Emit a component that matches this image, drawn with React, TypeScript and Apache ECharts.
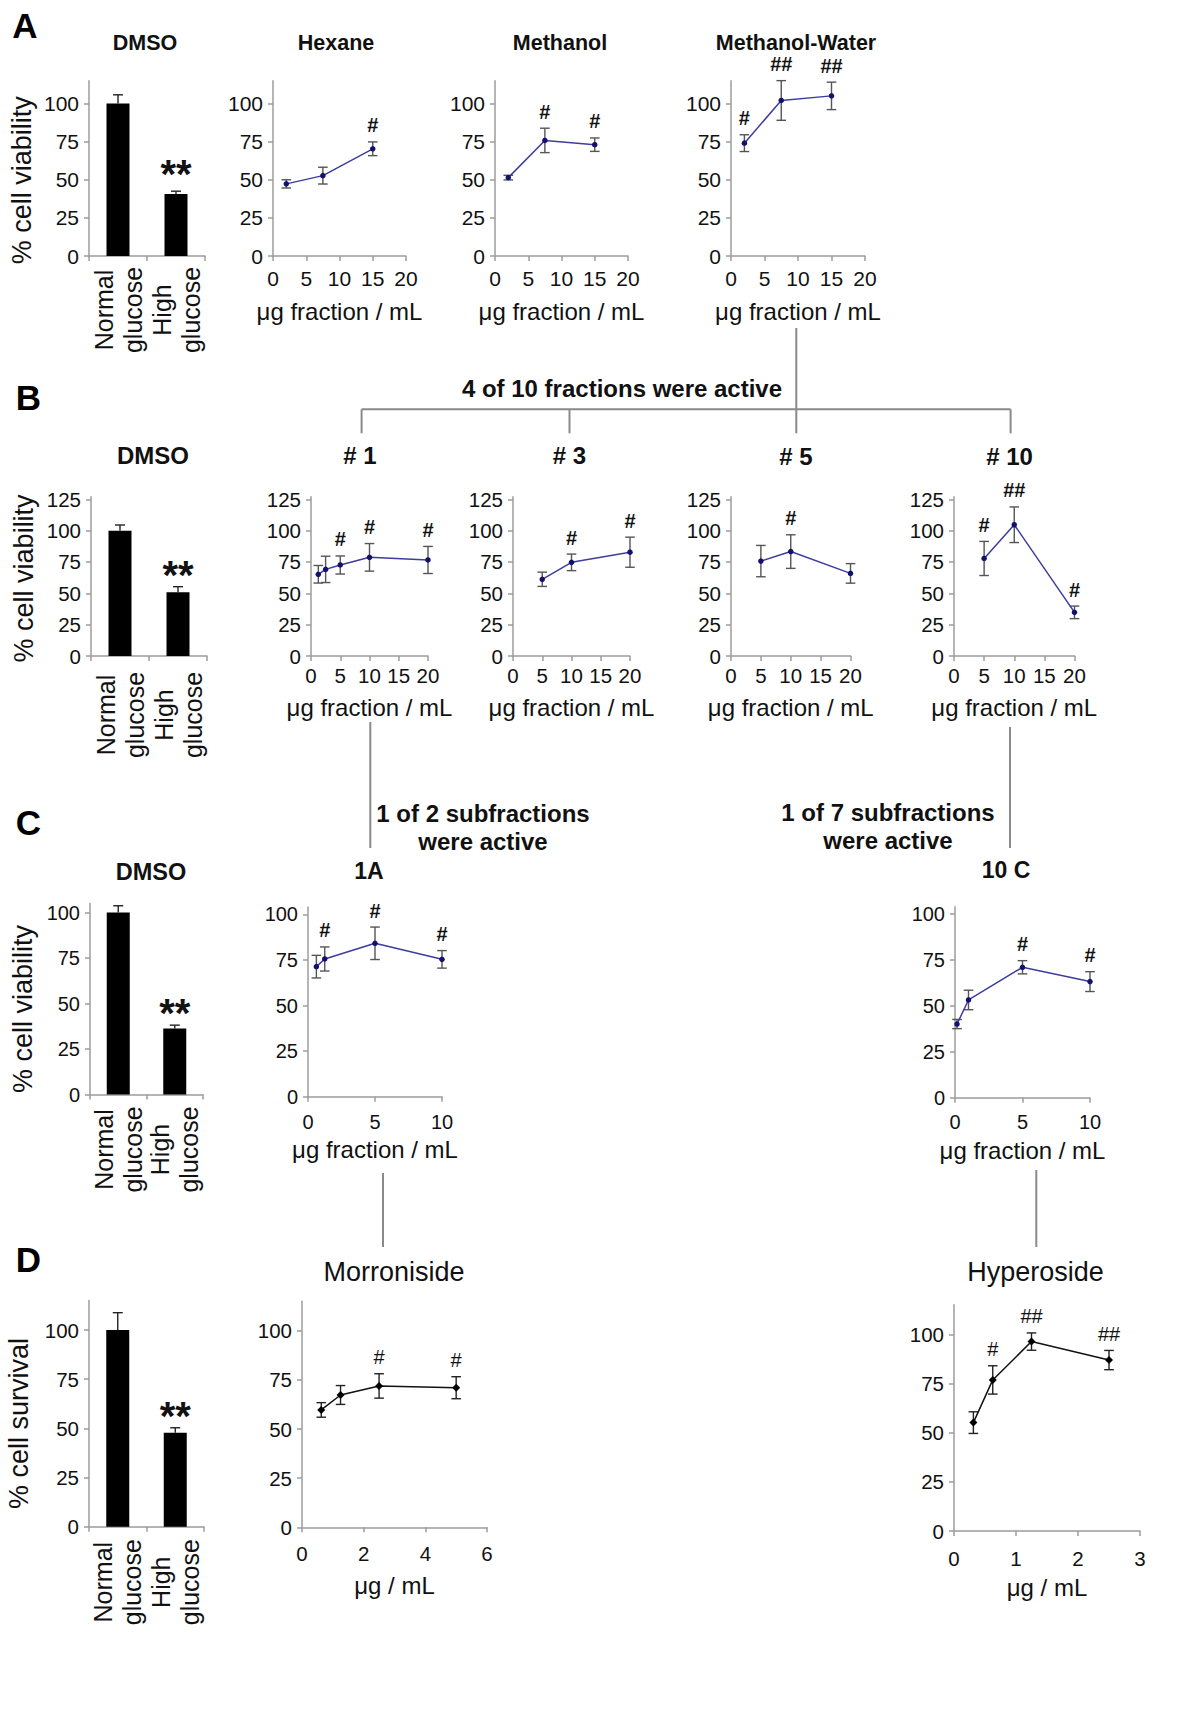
import React, { useEffect, useRef } from 'react';
import * as echarts from 'echarts';

const FONT = '"Liberation Sans", Arial, Helvetica, sans-serif';

// ---------- data ----------
const barCategories = ['Normal\nglucose', 'High\nglucose'];
const barMarks = ['', '**'];
const ticks100 = [0, 25, 50, 75, 100];
const ticks125 = [0, 25, 50, 75, 100, 125];
const yNameViability = '% cell viability';
const yNameSurvival = '% cell survival';
const xNameFraction = 'μg fraction / mL';
const xNameConc = 'μg / mL';

// Row A
const dmsoA = [100, 40.7];
const dmsoAErr = [5.7, 1.8];
const hexaneX = [2, 7.5, 15];
const hexaneY = [47.3, 52.7, 70.3];
const hexaneErr = [2.7, 5.5, 4.5];
const hexaneMarks = ['', '', '#'];
const methanolX = [2, 7.5, 15];
const methanolY = [51.4, 75.8, 73];
const methanolErr = [1.5, 8, 4.4];
const methanolMarks = ['', '#', '#'];
const mwX = [2, 7.5, 15];
const mwY = [74, 102, 105];
const mwErr = [5.5, 13, 9];
const mwMarks = ['#', '##', '##'];

// Row B
const dmsoB = [100, 50.8];
const dmsoBErr = [4.5, 4.5];
const f1X = [1.25, 2.5, 5, 10, 20];
const f1Y = [65.2, 69.1, 72.6, 78.7, 76.6];
const f1Err = [7, 10.5, 7.2, 11, 10.8];
const f1Marks = ['', '', '#', '#', '#'];
const f3X = [5, 10, 20];
const f3Y = [61.2, 74.7, 82.8];
const f3Err = [5.7, 6.6, 12];
const f3Marks = ['', '#', '#'];
const f5X = [5, 10, 20];
const f5Y = [75.7, 83.3, 65.9];
const f5Err = [12.5, 13.4, 7.8];
const f5Marks = ['', '#', ''];
const f10X = [5, 10, 20];
const f10Y = [77.8, 104.7, 34.8];
const f10Err = [13.6, 14.2, 5];
const f10Marks = ['#', '##', '#'];

// Row C
const dmsoC = [100, 36.3];
const dmsoCErr = [3.7, 1.8];
const s1aX = [0.625, 1.25, 5, 10];
const s1aY = [71.3, 75.5, 84.1, 75.3];
const s1aErr = [6.2, 6.6, 8.9, 4.8];
const s1aMarks = ['', '#', '#', '#'];
const s10cX = [0.15, 1, 5, 10];
const s10cY = [40.1, 53.2, 71, 63.2];
const s10cErr = [2.5, 5.3, 3.6, 5.4];
const s10cMarks = ['', '', '#', '#'];

// Row D
const dmsoD = [100, 47.8];
const dmsoDErr = [8.8, 2.5];
const morX = [0.625, 1.25, 2.5, 5];
const morY = [59.7, 67.3, 71.9, 71];
const morErr = [3.7, 4.8, 6.2, 5.6];
const morMarks = ['', '', '#', '#'];
const hypX = [0.3125, 0.625, 1.25, 2.5];
const hypY = [55.1, 76.8, 96.3, 86.9];
const hypErr = [5.5, 7.2, 4.4, 4.9];
const hypMarks = ['', '#', '##', '##'];

// titles / annotations
const panelLetters = ['A', 'B', 'C', 'D'];
const bracketText = '4 of 10 fractions were active';
const sub1Text = '1 of 2 subfractions\nwere active';
const sub10Text = '1 of 7 subfractions\nwere active';

// ---------- styling ----------
const NAVY_LINE = '#3d3d9e';
const NAVY_DOT = '#12126e';
const AXIS_COLOR = '#9c9c9c';
const CONNECT = '#8a8a8a';
const TEXT = '#111111';

type Panel = any;

const panels: Panel[] = [
  // Row A
  { kind: 'bar', left: 89, width: 116, y0: 256, ppu: 1.525, yMax: 115, yTicks: ticks100, vals: dmsoA, errs: dmsoAErr, marks: barMarks, starOffset: 17, yName: yNameViability, yShift: 12, catMargin: 54, tickFont: 21, title: 'DMSO', tx: 145, ty: 43, tSize: 21.5 },
  { kind: 'line', left: 273, width: 133, y0: 256, ppu: 1.525, yMax: 115, yTicks: ticks100, xMax: 20, xInt: 5, xs: hexaneX, ys: hexaneY, errs: hexaneErr, marks: hexaneMarks, xName: xNameFraction, xNameGap: 43, xMargin: 12, tickFont: 21, title: 'Hexane', tx: 336, ty: 43, tSize: 21.5 },
  { kind: 'line', left: 495, width: 133, y0: 256, ppu: 1.525, yMax: 115, yTicks: ticks100, xMax: 20, xInt: 5, xs: methanolX, ys: methanolY, errs: methanolErr, marks: methanolMarks, xName: xNameFraction, xNameGap: 43, xMargin: 12, tickFont: 21, title: 'Methanol', tx: 560, ty: 43, tSize: 21.5 },
  { kind: 'line', left: 731, width: 134, y0: 256, ppu: 1.525, yMax: 115, yTicks: ticks100, xMax: 20, xInt: 5, xs: mwX, ys: mwY, errs: mwErr, marks: mwMarks, xName: xNameFraction, xNameGap: 43, xMargin: 12, tickFont: 21, title: 'Methanol-Water', tx: 796, ty: 43, tSize: 21.5 },
  // Row B
  { kind: 'bar', left: 91, width: 116, y0: 656, ppu: 1.2536, yMax: 127, yTicks: ticks125, vals: dmsoB, errs: dmsoBErr, marks: barMarks, starOffset: 12, yName: yNameViability, yShift: 2, catMargin: 59, tickFont: 20.5, title: 'DMSO', tx: 153, ty: 455, tSize: 24 },
  { kind: 'line', left: 311, width: 117, y0: 656, ppu: 1.2536, yMax: 127, yTicks: ticks125, xMax: 20, xInt: 5, xs: f1X, ys: f1Y, errs: f1Err, marks: f1Marks, xName: xNameFraction, xNameGap: 39, xMargin: 9, tickFont: 20.5, title: '# 1', tx: 360, ty: 455, tSize: 24 },
  { kind: 'line', left: 513, width: 117, y0: 656, ppu: 1.2536, yMax: 127, yTicks: ticks125, xMax: 20, xInt: 5, xs: f3X, ys: f3Y, errs: f3Err, marks: f3Marks, xName: xNameFraction, xNameGap: 39, xMargin: 9, tickFont: 20.5, title: '# 3', tx: 569.5, ty: 455, tSize: 24 },
  { kind: 'line', left: 731, width: 119.5, y0: 656, ppu: 1.2536, yMax: 127, yTicks: ticks125, xMax: 20, xInt: 5, xs: f5X, ys: f5Y, errs: f5Err, marks: f5Marks, xName: xNameFraction, xNameGap: 39, xMargin: 9, tickFont: 20.5, title: '# 5', tx: 796, ty: 456, tSize: 24 },
  { kind: 'line', left: 954, width: 120.5, y0: 656, ppu: 1.2536, yMax: 127, yTicks: ticks125, xMax: 20, xInt: 5, xs: f10X, ys: f10Y, errs: f10Err, marks: f10Marks, xName: xNameFraction, xNameGap: 39, xMargin: 9, tickFont: 20.5, title: '# 10', tx: 1009.5, ty: 456, tSize: 24 },
  // Row C
  { kind: 'bar', left: 90, width: 113, y0: 1094.5, ppu: 1.82, yMax: 105, yTicks: ticks100, vals: dmsoC, errs: dmsoCErr, marks: barMarks, starOffset: 12, yName: yNameViability, yShift: 10, catMargin: 55, tickFont: 20, title: 'DMSO', tx: 151, ty: 872, tSize: 23.5 },
  { kind: 'line', left: 308, width: 134, y0: 1096.7, ppu: 1.824, yMax: 104, yTicks: ticks100, xMax: 10, xInt: 5, xs: s1aX, ys: s1aY, errs: s1aErr, marks: s1aMarks, xName: xNameFraction, xNameGap: 41, xMargin: 15, tickFont: 20, title: '1A', tx: 369, ty: 871, tSize: 23 },
  { kind: 'line', left: 955, width: 135, y0: 1097.7, ppu: 1.837, yMax: 104, yTicks: ticks100, xMax: 10, xInt: 5, xs: s10cX, ys: s10cY, errs: s10cErr, marks: s10cMarks, xName: xNameFraction, xNameGap: 41, xMargin: 14, tickFont: 20, title: '10 C', tx: 1006, ty: 870, tSize: 23 },
  // Row D
  { kind: 'bar', left: 89, width: 115, y0: 1526.7, ppu: 1.967, yMax: 115, yTicks: ticks100, vals: dmsoD, errs: dmsoDErr, marks: barMarks, starOffset: 12, yName: yNameSurvival, yShift: 10, catMargin: 55.5, tickFont: 20.5 },
  { kind: 'line', left: 302, width: 185, y0: 1527.3, ppu: 1.966, yMax: 115, yTicks: ticks100, xMax: 6, xInt: 2, xs: morX, ys: morY, errs: morErr, marks: morMarks, xName: xNameConc, xNameGap: 46, xMargin: 16, tickFont: 20.5, black: true, title: 'Morroniside', tx: 394, ty: 1272, tSize: 27, tNormal: true },
  { kind: 'line', left: 954, width: 186, y0: 1531, ppu: 1.967, yMax: 115, yTicks: ticks100, xMax: 3, xInt: 1, xs: hypX, ys: hypY, errs: hypErr, marks: hypMarks, xName: xNameConc, xNameGap: 44, xMargin: 17, tickFont: 20.5, black: true, title: 'Hyperoside', tx: 1035.5, ty: 1272, tSize: 27, tNormal: true },
];

function makeErrRender(marks: string[], o: any) {
  return (params: any, api: any) => {
    const x = api.value(0);
    const y = api.value(1);
    const e = api.value(2);
    const top = api.coord([x, y + e]);
    const bot = api.coord([x, o.upOnly ? y : y - e]);
    const st = { stroke: o.color, lineWidth: 1.4 };
    const children: any[] = [
      { type: 'line', shape: { x1: top[0], y1: top[1], x2: bot[0], y2: bot[1] }, style: st },
      { type: 'line', shape: { x1: top[0] - o.cap, y1: top[1], x2: top[0] + o.cap, y2: top[1] }, style: st },
    ];
    if (!o.upOnly) {
      children.push({ type: 'line', shape: { x1: bot[0] - o.cap, y1: bot[1], x2: bot[0] + o.cap, y2: bot[1] }, style: st });
    }
    const m = marks[params.dataIndex];
    if (m) {
      children.push({
        type: 'text',
        x: top[0],
        y: top[1] - o.markOffset,
        style: { text: m, fill: TEXT, fontSize: o.markSize, fontWeight: o.markWeight, fontFamily: FONT, align: 'center', verticalAlign: 'middle' },
      });
    }
    return { type: 'group', children };
  };
}

function buildOption() {
  const grid: any[] = [];
  const xAxis: any[] = [];
  const yAxis: any[] = [];
  const series: any[] = [];
  const graphic: any[] = [];

  const axisLine = { show: true, onZero: false, lineStyle: { color: AXIS_COLOR, width: 1.5 } };
  const axisTickBase = { show: true, length: 5, inside: false, lineStyle: { color: AXIS_COLOR, width: 1.5 } };

  panels.forEach((p, i) => {
    const height = p.yMax * p.ppu;
    grid.push({ left: p.left, top: p.y0 - height, width: p.width, height, containLabel: false });

    if (p.kind === 'bar') {
      xAxis.push({
        type: 'category', gridIndex: i, data: barCategories, boundaryGap: true,
        axisLine, axisTick: { ...axisTickBase, alignWithLabel: false },
        axisLabel: { interval: 0, rotate: 90, align: 'center', verticalAlign: 'middle', margin: p.catMargin, fontSize: 25, lineHeight: 29, color: TEXT, fontFamily: FONT },
        splitLine: { show: false },
      });
    } else {
      xAxis.push({
        type: 'value', gridIndex: i, min: 0, max: p.xMax, interval: p.xInt,
        axisLine, axisTick: axisTickBase,
        axisLabel: { fontSize: p.tickFont, margin: p.xMargin, color: TEXT, fontFamily: FONT },
        splitLine: { show: false },
        name: p.xName, nameLocation: 'middle', nameGap: p.xNameGap,
        nameTextStyle: { fontSize: 24, color: TEXT, fontFamily: FONT },
      });
    }
    const shift = p.yShift || 0;
    yAxis.push({
      type: 'value', gridIndex: i, min: 0, max: p.yMax,
      axisLine, axisTick: { ...axisTickBase, customValues: p.yTicks },
      axisLabel: { customValues: p.yTicks, fontSize: p.tickFont, margin: 10, color: TEXT, fontFamily: FONT },
      splitLine: { show: false },
      name: p.yName || '', nameLocation: 'middle', nameRotate: 90, nameGap: p.yName === yNameSurvival ? 57 : 54,
      nameTextStyle: { fontSize: 27, color: TEXT, fontFamily: FONT, padding: [0, shift * 2, 0, 0] },
    });

    if (p.kind === 'bar') {
      series.push({ type: 'bar', xAxisIndex: i, yAxisIndex: i, data: p.vals, barWidth: 23, itemStyle: { color: '#000' }, z: 2 });
      series.push({
        type: 'custom', xAxisIndex: i, yAxisIndex: i, clip: false, z: 3,
        data: p.vals.map((v: number, j: number) => [j, v, p.errs[j]]),
        renderItem: makeErrRender(p.marks, { color: '#222', cap: 5, upOnly: true, markSize: 40, markWeight: 'bold', markOffset: p.starOffset }),
      });
    } else {
      const lineColor = p.black ? '#111' : NAVY_LINE;
      const dotColor = p.black ? '#000' : NAVY_DOT;
      series.push({
        type: 'custom', xAxisIndex: i, yAxisIndex: i, clip: false, z: 2,
        data: p.xs.map((x: number, j: number) => [x, p.ys[j], p.errs[j]]),
        renderItem: makeErrRender(p.marks, { color: p.black ? '#222' : '#555', cap: 4.8, upOnly: false, markSize: 20, markWeight: p.black ? 'normal' : 'bold', markOffset: 16.5 }),
      });
      series.push({
        type: 'line', xAxisIndex: i, yAxisIndex: i, z: 4,
        data: p.xs.map((x: number, j: number) => [x, p.ys[j]]),
        symbol: p.black ? 'diamond' : 'circle', symbolSize: p.black ? 8 : 5.5,
        lineStyle: { color: lineColor, width: 1.5 },
        itemStyle: { color: dotColor },
      });
    }

    if (p.title) {
      graphic.push({
        type: 'text', x: p.tx, y: p.ty,
        style: { text: p.title, fill: TEXT, fontSize: p.tSize, fontWeight: p.tNormal ? 'normal' : 'bold', fontFamily: FONT, align: 'center', verticalAlign: 'middle' },
      });
    }
  });

  // panel letters
  const letterPos = [[25, 25], [28.5, 397], [28.5, 822], [28.5, 1259]];
  panelLetters.forEach((l, k) => {
    graphic.push({
      type: 'text', x: letterPos[k][0], y: letterPos[k][1],
      style: { text: l, fill: '#000', fontSize: 35, fontWeight: 'bold', fontFamily: FONT, align: 'center', verticalAlign: 'middle' },
    });
  });

  // annotation texts
  const annot = [
    { text: bracketText, x: 622, y: 388 },
    { text: sub1Text, x: 483, y: 827 },
    { text: sub10Text, x: 888, y: 826 },
  ];
  annot.forEach((a) => {
    graphic.push({
      type: 'text', x: a.x, y: a.y,
      style: { text: a.text, fill: TEXT, fontSize: 24, fontWeight: 'bold', fontFamily: FONT, align: 'center', verticalAlign: 'middle', lineHeight: 28 },
    });
  });

  // connector lines
  const segs = [
    [796.3, 328, 796.3, 409.3],
    [361.6, 409.3, 1010.6, 409.3],
    [361.6, 409.3, 361.6, 433.3],
    [569.5, 409.3, 569.5, 433.3],
    [796.3, 409.3, 796.3, 433.3],
    [1010.6, 409.3, 1010.6, 433.3],
    [370.3, 722, 370.3, 848],
    [1010, 727, 1010, 848],
    [383, 1173, 383, 1247],
    [1036.3, 1170, 1036.3, 1247],
  ];
  segs.forEach((s) => {
    graphic.push({ type: 'line', shape: { x1: s[0], y1: s[1], x2: s[2], y2: s[3] }, style: { stroke: CONNECT, lineWidth: 2 } });
  });

  return {
    animation: false,
    backgroundColor: '#ffffff',
    textStyle: { fontFamily: FONT },
    grid, xAxis, yAxis, series, graphic,
  };
}

export default function App() {
  const ref = useRef<HTMLDivElement>(null);
  useEffect(() => {
    if (!ref.current) return;
    const chart = echarts.init(ref.current, undefined, { renderer: 'svg' });
    chart.setOption(buildOption() as any);
    return () => chart.dispose();
  }, []);
  return (
    <div
      ref={ref}
      style={{ position: 'absolute', left: 0, top: 0, width: 1200, height: 1723, background: '#fff' }}
    />
  );
}
